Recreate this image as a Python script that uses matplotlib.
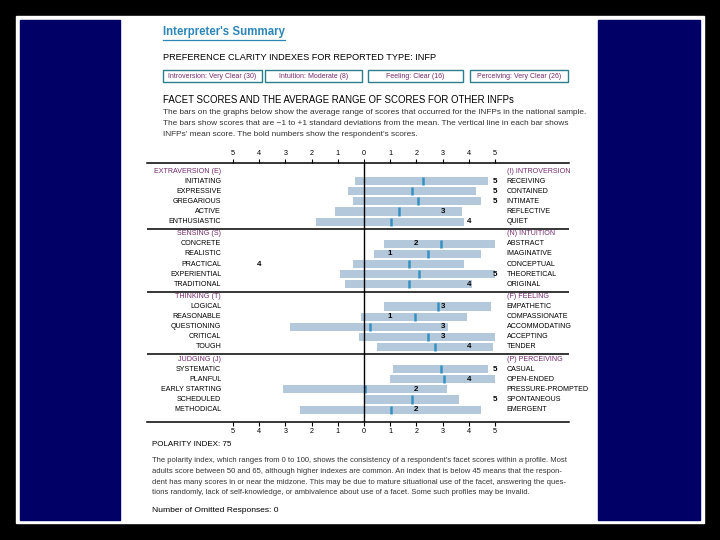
import matplotlib
matplotlib.use('Agg')
import matplotlib.pyplot as plt
from matplotlib.patches import Rectangle
from matplotlib.lines import Line2D

plt.rcParams['font.family'] = ['Liberation Sans Narrow', 'Liberation Sans', 'DejaVu Sans']

# pares de facetas (polo esquerdo / polo direito)
grupos_esq = ['EXTRAVERSION (E)', 'SENSING (S)', 'THINKING (T)', 'JUDGING (J)']
grupos_dir = ['(I) INTROVERSION', '(N) INTUITION', '(F) FEELING', '(P) PERCEIVING']

facetas_esq = ['INITIATING', 'EXPRESSIVE', 'GREGARIOUS', 'ACTIVE', 'ENTHUSIASTIC',
               'CONCRETE', 'REALISTIC', 'PRACTICAL', 'EXPERIENTIAL', 'TRADITIONAL',
               'LOGICAL', 'REASONABLE', 'QUESTIONING', 'CRITICAL', 'TOUGH',
               'SYSTEMATIC', 'PLANFUL', 'EARLY STARTING', 'SCHEDULED', 'METHODICAL']
facetas_dir = ['RECEIVING', 'CONTAINED', 'INTIMATE', 'REFLECTIVE', 'QUIET',
               'ABSTRACT', 'IMAGINATIVE', 'CONCEPTUAL', 'THEORETICAL', 'ORIGINAL',
               'EMPATHETIC', 'COMPASSIONATE', 'ACCOMMODATING', 'ACCEPTING', 'TENDER',
               'CASUAL', 'OPEN-ENDED', 'PRESSURE-PROMPTED', 'SPONTANEOUS', 'EMERGENT']

# faixa media (-1 a +1 desvio padrao), negativo = polo esquerdo
faixa_min = [-0.35, -0.60, -0.42, -1.10, -1.83,
             0.76, 0.38, -0.42, -0.92, -0.73,
             0.76, -0.12, -2.81, -0.20, 0.48,
             1.12, 0.99, -3.10, 0.00, -2.43]
faixa_max = [4.72, 4.26, 4.45, 3.73, 3.82,
             5.00, 4.45, 3.82, 5.00, 4.13,
             4.83, 3.92, 3.22, 5.00, 4.91,
             4.72, 5.00, 3.15, 3.62, 4.45]
media = [2.24, 1.84, 2.05, 1.32, 1.02,
         2.94, 2.44, 1.72, 2.09, 1.72,
         2.81, 1.94, 0.22, 2.44, 2.72,
         2.93, 3.04, 0.03, 1.84, 1.02]
pontos = [5, 5, 5, 3, 4,
          2, 1, -4, 5, 4,
          3, 1, 3, 3, 4,
          5, 4, 2, 5, 2]

caixas = ['Introversion: Very Clear (30)', 'Intuition: Moderate (8)',
          'Feeling: Clear (16)', 'Perceiving: Very Clear (26)']

W, H = 720, 540
roxo = '#74296f'
cor_barra = '#b3c9db'
cor_media = '#3591c2'


def fx(x):
    return x / W


def fy(y):
    return 1 - y / H


fig = plt.figure(figsize=(7.2, 5.4), dpi=100, facecolor='black')

# pagina branca e paineis azuis
fig.add_artist(Rectangle((fx(16), fy(523)), fx(704) - fx(16), fy(16) - fy(523),
                         transform=fig.transFigure, color='white', zorder=0))
fig.add_artist(Rectangle((fx(20), fy(520)), fx(100), fy(20) - fy(520),
                         transform=fig.transFigure, color='#000066', zorder=1))
fig.add_artist(Rectangle((fx(598), fy(520)), fx(102), fy(20) - fy(520),
                         transform=fig.transFigure, color='#000066', zorder=1))

# titulo sublinhado
t = fig.text(fx(163), fy(32), "Interpreter's Summary", fontsize=8.3, weight='bold',
             color='#2d86b8', va='center', family=['Liberation Sans', 'DejaVu Sans'])
fig.canvas.draw()
bb = t.get_window_extent().transformed(fig.transFigure.inverted())
fig.add_artist(Line2D([bb.x0, bb.x1], [fy(39.5), fy(39.5)], color='#2d86b8', lw=0.9,
                      transform=fig.transFigure))

fig.text(fx(163), fy(58), 'PREFERENCE CLARITY INDEXES FOR REPORTED TYPE: INFP',
         fontsize=6.6, va='center', family=['Liberation Sans', 'DejaVu Sans'])

lim_caixas = [(163, 262), (265, 362), (368, 463), (470, 568)]
for (x0, x1), txt in zip(lim_caixas, caixas):
    fig.add_artist(Rectangle((fx(x0), fy(82)), fx(x1) - fx(x0), fy(70) - fy(82),
                             transform=fig.transFigure, fill=False,
                             edgecolor='#2a7f8c', lw=1.0))
    fig.text(fx((x0 + x1) / 2), fy(76), txt, fontsize=5.0, color=roxo,
             ha='center', va='center')

fig.text(fx(163), fy(100), 'FACET SCORES AND THE AVERAGE RANGE OF SCORES FOR OTHER INFPs',
         fontsize=6.9, va='center', family=['Liberation Sans', 'DejaVu Sans'])
texto_topo = ['The bars on the graphs below show the average range of scores that occurred for the INFPs in the national sample.',
              'The bars show scores that are \u22121 to +1 standard deviations from the mean. The vertical line in each bar shows',
              "INFPs' mean score. The bold numbers show the respondent's scores."]
for i, linha in enumerate(texto_topo):
    fig.text(fx(163), fy(113 + i * 10.5), linha, fontsize=5.95, color='#333333', va='center')

# grafico das facetas
x0_px, x1_px, zero_px, escala = 147, 569, 364, 26.2
y0_px, y1_px = 163, 421.7
ax = fig.add_axes([fx(x0_px), fy(y1_px), fx(x1_px) - fx(x0_px), fy(y0_px) - fy(y1_px)])
ax.set_facecolor('none')
ax.set_xlim((x0_px - zero_px) / escala, (x1_px - zero_px) / escala)
ax.set_ylim(24.8, -0.8)

linhas_y = [g * 6.2 + k for g in range(4) for k in range(1, 6)]
larg = [b - a for a, b in zip(faixa_min, faixa_max)]
ax.barh(linhas_y, larg, left=faixa_min, height=0.8, color=cor_barra, zorder=2)
ax.vlines(media, [y - 0.4 for y in linhas_y], [y + 0.4 for y in linhas_y],
          color=cor_media, lw=1.8, zorder=3)
ax.axvline(0, color='black', lw=1.0, zorder=4)

for y, pe, pd_, p in zip(linhas_y, facetas_esq, facetas_dir, pontos):
    ax.text(-5.45, y, pe, ha='right', va='center', fontsize=5.1)
    ax.text(5.45, y, pd_, ha='left', va='center', fontsize=5.1)
    ax.text(p, y, str(abs(p)), ha='center', va='center', fontsize=5.8,
            weight='bold', zorder=5)

for g in range(4):
    ax.text(-5.45, g * 6.2, grupos_esq[g], ha='right', va='center', fontsize=5.1, color=roxo)
    ax.text(5.45, g * 6.2, grupos_dir[g], ha='left', va='center', fontsize=5.1, color=roxo)
    if g < 3:
        ax.axhline(g * 6.2 + 5.75, color='black', lw=1.1)

ticks = list(range(-5, 6))
ax.set_xticks(ticks)
ax.set_xticklabels([str(abs(v)) for v in ticks])
ax.set_yticks([])
ax.tick_params(axis='x', top=True, labeltop=True, bottom=True, labelbottom=True,
               direction='out', length=3, width=0.8, pad=1.5, labelsize=5.2)
for lado in ['left', 'right']:
    ax.spines[lado].set_visible(False)
for lado in ['top', 'bottom']:
    ax.spines[lado].set_linewidth(1.1)

# indice de polaridade
fig.text(fx(152), fy(445), 'POLARITY INDEX: 75', fontsize=5.8, va='center')
texto_pol = ["The polarity index, which ranges from 0 to 100, shows the consistency of a respondent's facet scores within a profile. Most",
             'adults score between 50 and 65, although higher indexes are common. An index that is below 45 means that the respon-',
             'dent has many scores in or near the midzone. This may be due to mature situational use of the facet, answering the ques-',
             'tions randomly, lack of self-knowledge, or ambivalence about use of a facet. Some such profiles may be invalid.']
for i, linha in enumerate(texto_pol):
    fig.text(fx(152), fy(461 + i * 10.6), linha, fontsize=5.5, color='#333333', va='center')
fig.text(fx(152), fy(510), 'Number of Omitted Responses: 0', fontsize=6.1, va='center')

fig.savefig('out.png', dpi=100, facecolor='black')
